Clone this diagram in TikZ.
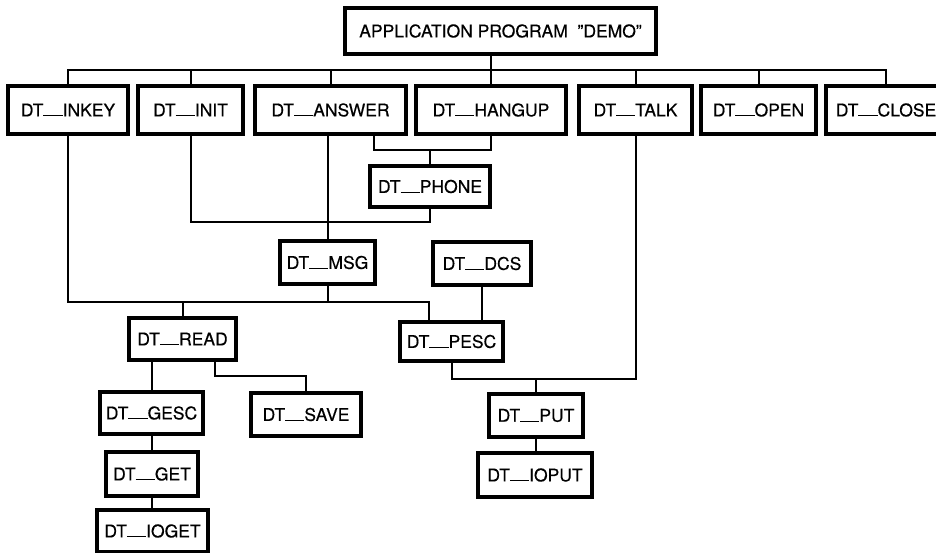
\documentclass[tikz,border=0pt]{standalone}
\usepackage{fontspec}
\setmainfont{TeX Gyre Heros}[FakeBold=0.4]
\usetikzlibrary{calc}

\newcommand{\ulbar}{\rule{1.1em}{0.07em}}
\tikzset{
  box/.style={draw, line width=3.2pt, minimum height=43pt, inner sep=0pt,
    font=\fontsize{17.5}{20}\selectfont},
  link/.style={line width=2pt},
}

\begin{document}
\begin{tikzpicture}[x=1pt, y=-1pt]
        \useasboundingbox (0,0) rectangle (936,552);
        % main program and first level
        \node[box, minimum width=311pt, minimum height=46pt] (app) at (500.5,31) {APPLICATION PROGRAM\ \ ''DEMO''};
        \foreach \nm/\ox/\w/\lab in {inkey/68/120/INKEY, init/190.5/105/INIT, answer/330.5/151/ANSWER,
            hangup/491/150/HANGUP, talk/635.5/113/TALK, open/758.5/115/OPEN, close/886/120/CLOSE} {
          \node[box, minimum width=\w pt, minimum height=48pt] (\nm) at (\ox,110) {DT\ulbar\lab};
        }
        % lower levels
        \node[box, minimum width=120pt, minimum height=41pt] (phone) at (430,186.5) {DT\ulbar PHONE};
        \node[box, minimum width=95pt] (msg) at (327.5,262.5) {DT\ulbar MSG};
        \node[box, minimum width=98pt] (dcs) at (482,263.5) {DT\ulbar DCS};
        \node[box, minimum width=107pt, minimum height=42pt] (read) at (182.5,339) {DT\ulbar READ};
        \node[box, minimum width=103pt, minimum height=39pt] (pesc) at (451.5,341.5) {DT\ulbar PESC};
        \node[box, minimum width=103pt, minimum height=42pt] (gesc) at (151.5,413) {DT\ulbar GESC};
        \node[box, minimum width=110pt] (save) at (306,414.5) {DT\ulbar SAVE};
        \node[box, minimum width=92pt, minimum height=44pt] (get) at (152,474) {DT\ulbar GET};
        \node[box, minimum width=111pt, minimum height=42pt] (ioget) at (152.5,531) {DT\ulbar IOGET};
        \node[box, minimum width=94pt] (put) at (536,415.5) {DT\ulbar PUT};
        \node[box, minimum width=114pt, minimum height=44pt] (ioput) at (535,475) {DT\ulbar IOPUT};
        % connectors
        \coordinate (topbus) at (500,70);
        \draw[link] (inkey.north) |- (topbus) -| (close.north);
        \foreach \nm in {init, answer, talk, open} {
          \draw[link] (\nm.north) -- (\nm.north |- topbus);
        }
        \draw[link] (app.south -| hangup.north) -- (hangup.north);
        \coordinate (phonebus) at (430,150);
        \draw[link] ($(answer.south east)+(-34,0)$) |- (phonebus) -| (hangup.south);
        \draw[link] (phone.north) -- (phone.north |- phonebus);
        \coordinate (initbus) at (300,222);
        \draw[link] (init.south) |- (initbus) -| (phone.south);
        \draw[link] (msg.north |- answer.south) -- (msg.north);
        \coordinate (msgbus) at (300,302);
        \draw[link] (inkey.south) |- (msgbus) -| ($(pesc.north west)+(31,0)$);
        \draw[link] (msg.south) -- (msg.south |- msgbus);
        \draw[link] (read.north) -- (read.north |- msgbus);
        \draw[link] (dcs.south) -- (dcs.south |- pesc.north);
        \coordinate (putbus) at (540,379);
        \draw[link] (pesc.south) |- (putbus) -| (talk.south);
        \draw[link] (put.north) -- (put.north |- putbus);
        \draw[link] (put.south) -- (put.south |- ioput.north);
        \draw[link] (gesc.north) -- (gesc.north |- read.south);
        \coordinate (savebus) at (260,376);
        \draw[link] ($(read.south east)+(-23,0)$) |- (savebus) -| (save.north);
        \draw[link] (gesc.south) -- (gesc.south |- get.north);
        \draw[link] (get.south) -- (get.south |- ioget.north);
      \end{tikzpicture}
\end{document}
